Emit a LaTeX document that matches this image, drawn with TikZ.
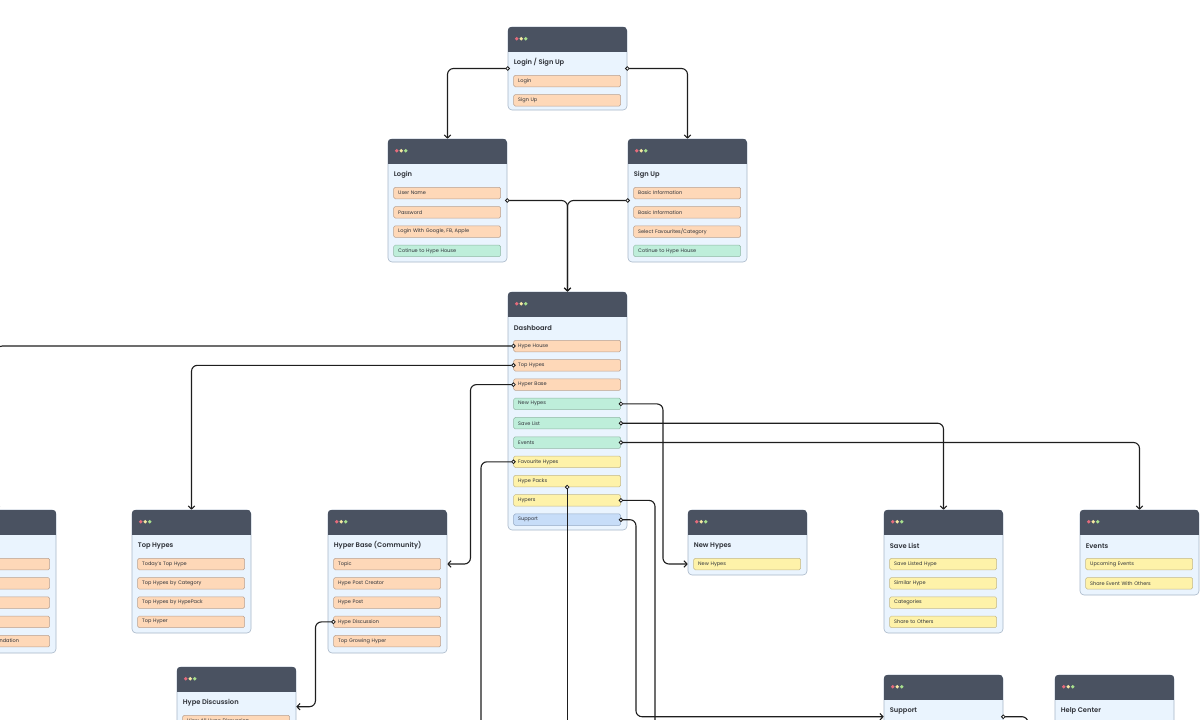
\documentclass[tikz,border=0pt]{standalone}
\usepackage{fontspec}
\setmainfont{Poppins}[BoldFont={Poppins SemiBold}]
\usepackage{tikz}
\usetikzlibrary{
  arrows.meta,
  positioning,
  calc
}
\definecolor{hhHead}{HTML}{4A5261}
\definecolor{hhCard}{HTML}{EAF4FE}
\definecolor{hhCardLine}{HTML}{A7B6C8}
\definecolor{hhInk}{HTML}{2E3138}
\definecolor{hhWire}{HTML}{1E1E1E}
\definecolor{hhOrange}{HTML}{FED8B8}
\definecolor{hhOrangeLine}{HTML}{B9A292}
\definecolor{hhGreen}{HTML}{BEEEDA}
\definecolor{hhGreenLine}{HTML}{92B8A6}
\definecolor{hhYellow}{HTML}{FEF2A9}
\definecolor{hhYellowLine}{HTML}{C3B98A}
\definecolor{hhBlue}{HTML}{C7DDF8}
\definecolor{hhBlueLine}{HTML}{93A8C4}
\definecolor{dotRed}{HTML}{E56B7C}
\definecolor{dotYellow}{HTML}{F6E8A2}
\definecolor{dotGreen}{HTML}{A8E08E}

\begin{document}
\begin{tikzpicture}[x=1pt, y=-1pt,
  card/.style={rectangle, rounded corners=4pt, minimum width=119pt, draw=hhCardLine, fill=hhCard, line width=0.6pt},
  cardtitle/.style={anchor=west, inner sep=0pt, font=\fontsize{6.7}{8}\selectfont\bfseries, text=hhInk},
  item/.style={rectangle, rounded corners=1.5pt, minimum width=107pt, minimum height=11.5pt, text width=98pt, inner xsep=4.5pt, inner ysep=0pt, align=left, line width=0.5pt, font=\fontsize{5}{6}\selectfont, text=hhInk},
  itorange/.style={fill=hhOrange, draw=hhOrangeLine},
  itgreen/.style={fill=hhGreen, draw=hhGreenLine},
  ityellow/.style={fill=hhYellow, draw=hhYellowLine},
  itblue/.style={fill=hhBlue, draw=hhBlueLine},
  flow/.style={draw=hhWire, line width=1.1pt, rounded corners=6pt, shorten <=-2.2pt,
    arrows={Circle[fill=white, length=4.4pt, width=4.4pt, line width=0.8pt]-Straight Barb[length=3pt, width=6.5pt]}},
  flowout/.style={flow, arrows={Circle[fill=white, length=4.4pt, width=4.4pt, line width=0.8pt]-}}
]
  \useasboundingbox (0,0) rectangle (1200,720);

  % cards: name/left/top/height/title
  \foreach \nm/\x/\y/\h/\ttl in {lsu/508/27/83/{Login / Sign Up}, login/388/139/123/{Login}, signup/628/139/123/{Sign Up},
      dash/508/292/238/{Dashboard}, house/-63/510/143/{}, top/132/510/123/{Top Hypes},
      base/328/510/143/{Hyper Base (Community)}, new/688/510/65/{New Hypes}, save/884/510/123/{Save List},
      events/1080/510/85/{Events}, disc/177/667/100/{Hype Discussion}, support/884/675/100/{Support},
      help/1055/675/100/{Help Center}}{
    \node[card, minimum height=\h] (\nm) at (\x+59.5, \y+\h/2) {};
    \begin{scope}
      \clip[rounded corners=4pt] (\nm.north west) rectangle (\nm.south east);
      \fill[hhHead] (\nm.north west) rectangle ++(119,25);
    \end{scope}
    \foreach \i/\c in {0/dotRed, 1/dotYellow, 2/dotGreen}
      \fill[\c] ($(\nm.north west)+(9+4.5*\i,12)$) circle (1.9pt);
    \node[cardtitle] (\nm-t) at ($(\nm.north west)+(6,36)$) {\ttl};
  }

  % rows: card/index/text/colour
  \foreach \c/\i/\txt/\col in {lsu/1/{Login}/itorange, lsu/2/{Sign Up}/itorange,
      login/1/{User Name}/itorange, login/2/{Password}/itorange, login/3/{Login With Google, FB, Apple}/itorange, login/4/{Cotinue to Hype House}/itgreen,
      signup/1/{Basic Information}/itorange, signup/2/{Basic Information}/itorange, signup/3/{Select Favourites/Category}/itorange, signup/4/{Cotinue to Hype House}/itgreen,
      dash/1/{Hype House}/itorange, dash/2/{Top Hypes}/itorange, dash/3/{Hyper Base}/itorange,
      dash/4/{New Hypes}/itgreen, dash/5/{Save List}/itgreen, dash/6/{Events}/itgreen,
      dash/7/{Favourite Hypes}/ityellow, dash/8/{Hype Packs}/ityellow, dash/9/{Hypers}/ityellow, dash/10/{Support}/itblue,
      house/1/{}/itorange, house/2/{}/itorange, house/3/{}/itorange, house/4/{Hype House Profile}/itorange, house/5/{Hype Post Recommendation}/itorange,
      top/1/{Today's Top Hype}/itorange, top/2/{Top Hypes by Category}/itorange, top/3/{Top Hypes by HypePack}/itorange, top/4/{Top Hyper}/itorange,
      base/1/{Topic}/itorange, base/2/{Hype Post Creator}/itorange, base/3/{Hype Post}/itorange, base/4/{Hype Discussion}/itorange, base/5/{Top Growing Hyper}/itorange,
      new/1/{New Hypes}/ityellow,
      save/1/{Save Listed Hype}/ityellow, save/2/{Similar Hype}/ityellow, save/3/{Categories}/ityellow, save/4/{Share to Others}/ityellow,
      events/1/{Upcoming Events}/ityellow, events/2/{Share Event With Others}/ityellow,
      disc/1/{View All Hype Discussion}/itorange}
    \node[item, \col] (\c-\i) at ($(\c.north west)+(59.5,54.3+19.3*\i-19.3)$) {\txt};

  % ends of wires
  \coordinate (support-in) at ($(support.north west)+(0,42)$);
  \coordinate (support-out) at ($(support.north east)+(0,42)$);
  \coordinate (disc-in) at ($(disc.north east)+(0,40)$);
  \coordinate (fav-end) at (481,730);
  \coordinate (packs-end) at (dash-8.south |- 0,730);
  \coordinate (hypers-end) at (655,730);
  \coordinate (support-end) at (1028,730);

  \draw[flow] (lsu.west) -| (login.north);
  \draw[flow] (lsu.east) -| (signup.north);
  \draw[flow] (login.east) -| (dash.north);
  \draw[flow] (signup.west) -| (dash.north);
  \draw[flow] (dash-1.west) -| (house.north);
  \draw[flow] (dash-2.west) -| (top.north);
  \draw[flow] (dash-3.west) -- ++(-43,0) |- (base.east |- base-1);
  \draw[flow] (dash-4.east) -- ++(42,0) |- (new.west |- new-1);
  \draw[flow] (dash-5.east) -| (save.north);
  \draw[flow] (dash-6.east) -| (events.north);
  \draw[flowout] (dash-7.west) -| (fav-end);
  \draw[flowout] (dash-8.south) -- (packs-end);
  \draw[flowout] (dash-9.east) -| (hypers-end);
  \draw[flow] (dash-10.east) -- ++(15,0) |- (support-in);
  \draw[flow] (base-4.west) -- ++(-18,0) |- (disc-in);
  \draw[flowout] (support-out) -| (support-end);
\end{tikzpicture}
\end{document}
